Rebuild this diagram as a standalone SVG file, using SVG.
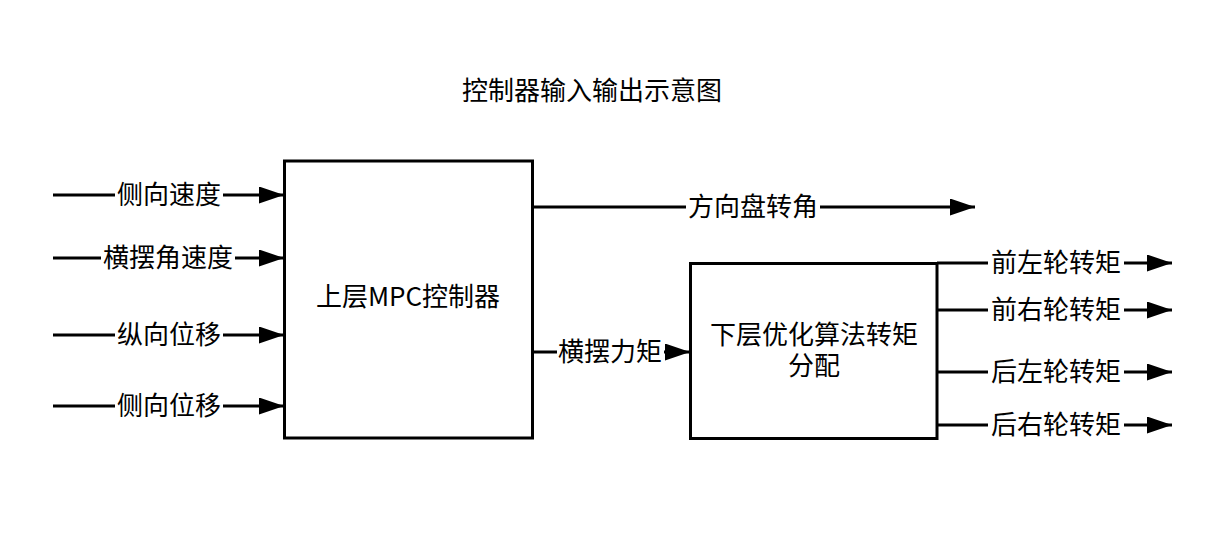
<svg xmlns="http://www.w3.org/2000/svg" width="1229" height="535" viewBox="0 0 1229 535">
<style>
text{font-family:"Noto Sans CJK SC","Microsoft YaHei","Noto Sans",sans-serif;font-size:26px;fill:#000;text-anchor:middle}
.box{fill:#fff;stroke:#000;stroke-width:3}
.ln{fill:none;stroke:#000;stroke-width:3;marker-end:url(#ah)}
.bg{fill:#fff}
</style>
<defs>
<marker id="ah" markerUnits="userSpaceOnUse" markerWidth="26" markerHeight="18" refX="25" refY="8.5" orient="auto" viewBox="0 0 26 18">
<path d="M0,0 L25,8.5 L0,17 z" fill="#000"/>
</marker>
</defs>
<rect width="1229" height="535" fill="#fff"/>
<text id="title" x="592" y="100">控制器输入输出示意图</text>
<g id="connectors">
<path class="ln" d="M53,195 H284"/>
<path class="ln" d="M53,258 H284"/>
<path class="ln" d="M53,335 H284"/>
<path class="ln" d="M53,406 H284"/>
<path class="ln" d="M533,207 H975"/>
<path class="ln" d="M533,352 H690"/>
<path class="ln" d="M937,263 H1172"/>
<path class="ln" d="M937,310 H1172"/>
<path class="ln" d="M937,372 H1172"/>
<path class="ln" d="M937,425 H1172"/>
<g id="labels">
<rect class="bg" x="115" y="181" width="108" height="28"/><text x="169" y="204">侧向速度</text>
<rect class="bg" x="101" y="244" width="134" height="28"/><text x="168" y="267">横摆角速度</text>
<rect class="bg" x="115" y="321" width="108" height="28"/><text x="169" y="344">纵向位移</text>
<rect class="bg" x="115" y="392" width="108" height="28"/><text x="169" y="415">侧向位移</text>
<rect class="bg" x="686" y="193" width="134" height="28"/><text x="753" y="216">方向盘转角</text>
<rect class="bg" x="557" y="338" width="107" height="28"/><text x="610" y="361">横摆力矩</text>
<rect class="bg" x="988" y="249" width="136" height="28"/><text x="1056" y="272">前左轮转矩</text>
<rect class="bg" x="988" y="296" width="136" height="28"/><text x="1056" y="319">前右轮转矩</text>
<rect class="bg" x="988" y="358" width="136" height="28"/><text x="1056" y="381">后左轮转矩</text>
<rect class="bg" x="988" y="411" width="136" height="28"/><text x="1056" y="434">后右轮转矩</text>
</g>
</g>
<g id="upper-mpc">
<rect class="box" x="284.5" y="161" width="248" height="277"/>
<text x="408" y="306">上层MPC控制器</text>
</g>
<g id="lower-opt">
<rect class="box" x="690.5" y="263.5" width="246.5" height="175"/>
<text x="814" y="344">下层优化算法转矩<tspan x="814" dy="31">分配</tspan></text>
</g>
</svg>
